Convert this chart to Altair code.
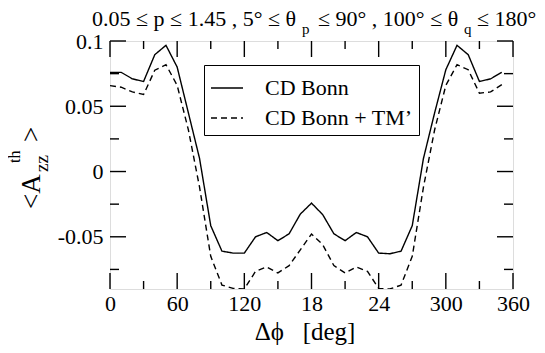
import altair as alt
import pandas as pd

FONT = "Liberation Serif"

# ---- data ----
phi = [0, 10, 20, 30, 40, 50, 60, 70, 80, 90, 100, 110, 120, 130, 140, 150, 160, 170,
       180, 190, 200, 210, 220, 230, 240, 250, 260, 270, 280, 290, 300, 310, 320, 330, 340, 350]
cd_bonn = [0.076, 0.076, 0.071, 0.069, 0.0895, 0.0967, 0.080, 0.045, 0.010, -0.0415,
           -0.061, -0.0625, -0.0625, -0.050, -0.0467, -0.053, -0.0477, -0.0326,
           -0.0242, -0.0330, -0.0477, -0.053, -0.0467, -0.050, -0.0625, -0.0630,
           -0.061, -0.0415, 0.010, 0.045, 0.078, 0.0967, 0.0895, 0.069, 0.071, 0.076]
cd_bonn_tm = [0.0658, 0.0646, 0.061, 0.059, 0.0776, 0.0819, 0.066, 0.032, -0.012, -0.065,
              -0.087, -0.0895, -0.090, -0.0765, -0.0731, -0.0777, -0.0721, -0.060,
              -0.0479, -0.056, -0.0721, -0.0777, -0.0731, -0.0765, -0.0895, -0.090,
              -0.087, -0.065, -0.012, 0.032, 0.066, 0.0819, 0.078, 0.060, 0.061, 0.0666]
series_names = ["CD Bonn", "CD Bonn + TM\u2019"]

x_major = [0, 60, 120, 180, 240, 300, 360]
x_labels = ["0", "60", "120", "18", "24", "300", "360"]
x_minor = [30, 90, 150, 210, 270, 330]
y_major = [-0.05, 0, 0.05, 0.1]
y_labels = ["-0.05", "0", "0.05", "0.1"]
y_minor = [-0.075, -0.025, 0.025, 0.075]

W, H = 403, 248

df = pd.DataFrame({
    "phi": phi * 2,
    "A": cd_bonn + cd_bonn_tm,
    "series": [series_names[0]] * len(phi) + [series_names[1]] * len(phi),
})

xscale = alt.Scale(domain=[0, 360], nice=False, zero=False)
yscale = alt.Scale(domain=[-0.09, 0.1], nice=False, zero=False)

x_label_expr = "%s[indexof(%s, round(datum.value))]" % (
    "[" + ",".join("'%s'" % s for s in x_labels) + "]",
    "[" + ",".join(str(v) for v in x_major) + "]")
y_label_expr = "%s[indexof(%s, round(datum.value*1000))]" % (
    "[" + ",".join("'%s'" % s for s in y_labels) + "]",
    "[" + ",".join(str(round(v * 1000)) for v in y_major) + "]")

x_axis = alt.Axis(values=x_major, labelExpr=x_label_expr, ticks=False, domain=False,
                  grid=False, title=None, labelFont=FONT, labelFontSize=22,
                  labelColor="black", labelPadding=4, labelFlush=False,
                  labelOverlap=False)
y_axis = alt.Axis(values=y_major, labelExpr=y_label_expr, ticks=False, domain=False,
                  grid=False, title=None, labelFont=FONT, labelFontSize=22,
                  labelColor="black", labelPadding=7, labelFlush=False,
                  labelOverlap=False)

lines = alt.Chart(df).mark_line(clip=True, strokeWidth=1.4, color="black").encode(
    x=alt.X("phi:Q", scale=xscale, axis=x_axis),
    y=alt.Y("A:Q", scale=yscale, axis=y_axis),
    strokeDash=alt.StrokeDash("series:N", scale=alt.Scale(
        domain=series_names, range=[[1, 0], [6, 4]]),
        legend=alt.Legend(title=None, orient="none", legendX=94, legendY=24,
                          symbolType="stroke", symbolSize=1024, symbolStrokeWidth=1.4,
                          symbolStrokeColor="black", labelFont=FONT, labelFontSize=22,
                          labelColor="black", labelOffset=21, rowPadding=2,
                          padding=6, strokeColor="black", fillColor="white",
                          labelLimit=300)),
)


def xticks(vals, length, top):
    d = pd.DataFrame({"phi": vals})
    if top:
        enc = dict(y=alt.value(0), y2=alt.value(length))
    else:
        enc = dict(y=alt.value(H), y2=alt.value(H - length))
    return alt.Chart(d).mark_rule(color="black", strokeWidth=1.4).encode(
        x=alt.X("phi:Q", scale=xscale, axis=x_axis), **enc)


def yticks(vals, length, right):
    d = pd.DataFrame({"A": vals})
    if right:
        enc = dict(x=alt.value(W), x2=alt.value(W - length))
    else:
        enc = dict(x=alt.value(0), x2=alt.value(length))
    return alt.Chart(d).mark_rule(color="black", strokeWidth=1.4).encode(
        y=alt.Y("A:Q", scale=yscale, axis=y_axis), **enc)


ticks = [
    xticks(x_major, 16, False), xticks(x_minor, 8, False),
    xticks(x_major, 16, True), xticks(x_minor, 8, True),
    yticks(y_major, 16, False), yticks(y_minor, 9, False),
    yticks(y_major, 16, True), yticks(y_minor, 9, True),
]


def txt(s, x, y, size, angle=0, align="left"):
    return alt.Chart(alt.Data(values=[{}])).mark_text(
        text=s, align=align, baseline="alphabetic", font=FONT, fontSize=size,
        angle=angle, color="black").encode(x=alt.value(x), y=alt.value(y))


annotations = [
    # title with subscripts
    txt("0.05 \u2264 p \u2264 1.45 , 5\u00b0 \u2264 \u03b8", -18, -15, 22),
    txt("p", 192, -7, 15),
    txt("\u2264 90\u00b0 , 100\u00b0 \u2264 \u03b8", 208, -15, 22),
    txt("q", 354, -7, 15),
    txt("\u2264 180\u00b0", 367, -15, 22),
    # y title  <A_zz^th>
    txt("<A", -70, 168, 27, angle=270),
    txt("zz", -62, 131, 19, angle=270),
    txt("th", -90, 122, 16, angle=270),
    txt(">", -70, 101, 27, angle=270),
    # x title
    txt("\u0394\u03d5\u00a0\u00a0 [deg]", 195, 299, 25, align="center"),
]

chart = alt.layer(lines, *ticks, *annotations).properties(
    width=W, height=H,
    padding={"left": 102, "top": 33, "right": 24, "bottom": 56},
    autosize=alt.AutoSizeParams(type="none"),
).configure_view(stroke="black", strokeWidth=1.5).configure(background="white")

chart.save("out.html", embed_options={"renderer": "svg", "actions": False})
